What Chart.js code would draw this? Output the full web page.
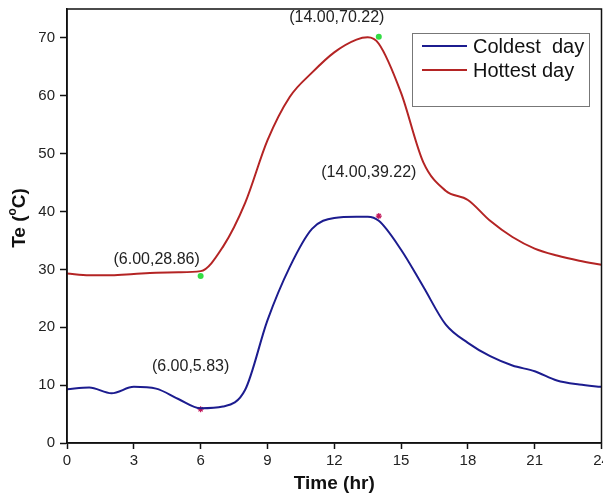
<!DOCTYPE html>
<html>
<head>
<meta charset="utf-8">
<script src="https://cdn.jsdelivr.net/npm/chart.js@4/dist/chart.umd.min.js"></script>
<style>
  html, body { margin: 0; padding: 0; background: #fff; }
  #wrap { width: 603px; height: 497px; }
</style>
</head>
<body>
<div id="wrap"><canvas id="teChart" width="603" height="497"></canvas></div>
<script>
// hours of the day and temperatures Te (°C)
const hours = [0, 1, 2, 3, 4, 5, 6, 7, 8, 9, 10, 11, 12, 13, 13.5, 14, 15, 16, 17, 18, 19, 20, 21, 22, 23, 24];
const coldest = [9.3, 9.6, 8.6, 9.7, 9.4, 7.6, 6.0, 6.3, 9.2, 21.2, 30.4, 37.0, 38.9, 39.1, 39.1, 38.4, 33.4, 27.0, 20.5, 17.3, 15.0, 13.4, 12.4, 10.8, 10.1, 9.7];
const hottest = [29.3, 29.0, 29.0, 29.2, 29.4, 29.5, 29.7, 33.9, 41.5, 52.3, 59.8, 64.0, 67.5, 69.7, 70.1, 69.0, 60.5, 48.5, 43.6, 42.0, 38.4, 35.6, 33.6, 32.4, 31.5, 30.8];

// marked min / max points
const coldMarks = [[6.00, 5.83], [14.00, 39.22]];
const hotMarks = [[6.00, 28.86], [14.00, 70.22]];

const xTicks = [0, 3, 6, 9, 12, 15, 18, 21, 24];
const yTicks = [0, 10, 20, 30, 40, 50, 60, 70];

const FONT = 'Arial, "Liberation Sans", sans-serif';

function toXY(xs, ys) {
  return xs.map((x, i) => ({ x: x, y: ys[i] }));
}
function markXY(list) {
  return list.map(p => ({ x: p[0], y: p[1] }));
}

// frame, y title, point labels and legend box
const decorations = {
  id: 'decorations',
  afterDraw(chart) {
    const ctx = chart.ctx;
    const a = chart.chartArea;
    const xs = chart.scales.x;
    const ys = chart.scales.y;
    ctx.save();

    ctx.strokeStyle = '#111';
    ctx.lineWidth = 1.5;
    ctx.strokeRect(a.left, a.top, a.right - a.left, a.bottom - a.top);

    // y axis title with superscript o
    ctx.translate(20, 218);
    ctx.rotate(-Math.PI / 2);
    ctx.fillStyle = '#111';
    ctx.textBaseline = 'middle';
    const p1 = 'Te (', p3 = 'C)';
    ctx.font = 'bold 19px ' + FONT;
    const w1 = ctx.measureText(p1).width;
    const w3 = ctx.measureText(p3).width;
    ctx.font = 'bold 12px ' + FONT;
    const w2 = ctx.measureText('o').width;
    const x0 = -(w1 + w2 + w3) / 2;
    ctx.textAlign = 'left';
    ctx.font = 'bold 19px ' + FONT;
    ctx.fillText(p1, x0, 0);
    ctx.font = 'bold 12px ' + FONT;
    ctx.fillText('o', x0 + w1, -7);
    ctx.font = 'bold 19px ' + FONT;
    ctx.fillText(p3, x0 + w1 + w2, 0);
    ctx.setTransform(1, 0, 0, 1, 0, 0);

    // value labels next to the marked points
    ctx.font = '16px ' + FONT;
    ctx.fillStyle = '#222';
    ctx.textBaseline = 'middle';
    ctx.textAlign = 'center';
    const lbl = (p, dx, dy) => {
      const px = xs.getPixelForValue(p[0]);
      const py = ys.getPixelForValue(p[1]);
      ctx.fillText('(' + p[0].toFixed(2) + ',' + p[1].toFixed(2) + ')', px + dx, py + dy);
    };
    lbl(hotMarks[0], -44, -16);
    lbl(hotMarks[1], -42, -19);
    lbl(coldMarks[0], -10, -43);
    lbl(coldMarks[1], -10, -43);

    // legend
    ctx.strokeStyle = '#777';
    ctx.lineWidth = 1;
    ctx.strokeRect(412.5, 33.5, 177, 73);
    ctx.font = '20px ' + FONT;
    ctx.textAlign = 'left';
    ctx.fillStyle = '#111';
    const items = chart.data.datasets.filter(d => d.inLegend);
    items.forEach((d, i) => {
      const y = 46 + i * 24;
      ctx.strokeStyle = d.borderColor;
      ctx.lineWidth = 2;
      ctx.beginPath();
      ctx.moveTo(422, y);
      ctx.lineTo(467, y);
      ctx.stroke();
      ctx.fillText(d.label, 473, y + 1);
    });
    ctx.restore();
  }
};

new Chart(document.getElementById('teChart'), {
  type: 'line',
  data: {
    datasets: [
      {
        label: 'Coldest  day',
        inLegend: true,
        data: toXY(hours, coldest),
        borderColor: '#1c1c8f',
        borderWidth: 2,
        pointRadius: 0,
        cubicInterpolationMode: 'monotone'
      },
      {
        label: 'Hottest day',
        inLegend: true,
        data: toXY(hours, hottest),
        borderColor: '#b42424',
        borderWidth: 2,
        pointRadius: 0,
        cubicInterpolationMode: 'monotone'
      },
      {
        label: 'cold marks',
        data: markXY(coldMarks),
        showLine: false,
        pointStyle: 'star',
        pointRadius: 3,
        borderColor: '#c2185b',
        backgroundColor: '#c2185b',
        borderWidth: 1.2
      },
      {
        label: 'hot marks',
        data: markXY(hotMarks),
        showLine: false,
        pointStyle: 'circle',
        pointRadius: 3,
        borderWidth: 0,
        backgroundColor: '#33dd44'
      }
    ]
  },
  options: {
    responsive: false,
    animation: false,
    layout: { autoPadding: false, padding: { top: 9, right: 1.5, left: 0, bottom: 0 } },
    plugins: {
      legend: { display: false },
      tooltip: { enabled: false }
    },
    scales: {
      x: {
        type: 'linear',
        min: 0,
        max: 24,
        afterBuildTicks: s => { s.ticks = xTicks.map(v => ({ value: v })); },
        afterFit: s => { s.height = 54; s.paddingLeft = 0; s.paddingRight = 0; },
        border: { color: '#111', width: 1.5 },
        grid: { drawOnChartArea: false, tickLength: 6, color: '#111', tickWidth: 1.5 },
        ticks: { color: '#222', font: { family: FONT, size: 15 }, padding: 3, maxRotation: 0 },
        title: {
          display: true,
          text: 'Time (hr)',
          color: '#111',
          font: { family: FONT, size: 19, weight: 'bold' },
          padding: { top: 0, bottom: 2 }
        }
      },
      y: {
        min: 0,
        max: 75,
        afterBuildTicks: s => { s.ticks = yTicks.map(v => ({ value: v })); },
        afterFit: s => { s.width = 67; s.paddingTop = 0; s.paddingBottom = 0; },
        border: { color: '#111', width: 1.5 },
        grid: { drawOnChartArea: false, tickLength: 7, color: '#111', tickWidth: 1.5 },
        ticks: { color: '#222', font: { family: FONT, size: 15 }, padding: 5 }
      }
    }
  },
  plugins: [decorations]
});
</script>
</body>
</html>
